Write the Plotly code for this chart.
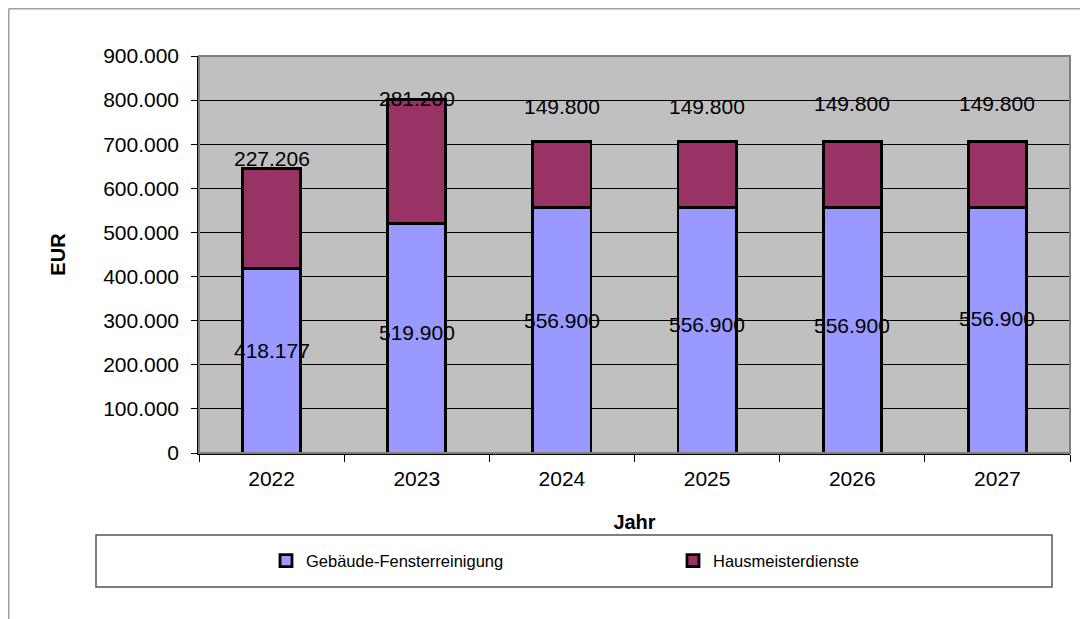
import plotly.graph_objects as go

years = ["2022", "2023", "2024", "2025", "2026", "2027"]
gebaeude = [418177, 519900, 556900, 556900, 556900, 556900]
hausmeister = [227206, 281200, 149800, 149800, 149800, 149800]
series_names = ["Gebäude-Fensterreinigung", "Hausmeisterdienste"]
y_ticks = [0, 100000, 200000, 300000, 400000, 500000, 600000, 700000, 800000, 900000]

# label vertical offsets (px) to mimic the original label placement
bottom_shift = [10, 6, 10, 6, 5, 12]
top_shift = [10, 1, 35, 35, 38, 38]

FONT = "Liberation Sans, Arial, sans-serif"

def fmt(v):
    return f"{v:,.0f}".replace(",", ".")

fig = go.Figure()
fig.add_trace(go.Bar(x=years, y=gebaeude, name=series_names[0], width=0.4, legend="legend",
                     marker=dict(color="#9999FF", line=dict(color="black", width=2.8))))
fig.add_trace(go.Bar(x=years, y=hausmeister, name=series_names[1], width=0.4, legend="legend2",
                     marker=dict(color="#993366", line=dict(color="black", width=2.8))))

annotations = []
for i, yr in enumerate(years):
    annotations.append(dict(x=i, y=gebaeude[i] / 2, xref="x", yref="y", text=fmt(gebaeude[i]),
                            showarrow=False, yshift=bottom_shift[i],
                            font=dict(family=FONT, size=21, color="black")))
    annotations.append(dict(x=i, y=gebaeude[i] + hausmeister[i], xref="x", yref="y",
                            text=fmt(hausmeister[i]), showarrow=False, yshift=top_shift[i],
                            font=dict(family=FONT, size=21, color="black")))

OFF = 8  # page body margin
W, H = 1080, 611
L, R, T, B = 191, 18, 48, 166
pw, ph = W - L - R, H - T - B

def px(xp):  # page x -> paper
    return (xp - OFF - L) / pw

def py(yp):  # page y -> paper
    return (H - B - (yp - OFF)) / ph

shapes = [
    dict(type="rect", xref="paper", yref="paper", x0=0, x1=1, y0=0, y1=1,
         line=dict(color="#808080", width=2), layer="above"),
    dict(type="line", xref="paper", yref="paper", x0=px(8.75), x1=px(1100), y0=py(8.75), y1=py(8.75),
         line=dict(color="#A0A0A0", width=1.5)),
    dict(type="line", xref="paper", yref="paper", x0=px(8.75), x1=px(8.75), y0=py(8.75), y1=py(640),
         line=dict(color="#A0A0A0", width=1.5)),
    dict(type="rect", xref="paper", yref="paper", x0=px(96), x1=px(1052), y0=py(587), y1=py(535),
         line=dict(color="#555555", width=1.5), fillcolor="white", layer="below"),
]

legend_common = dict(orientation="h", y=py(561), xanchor="left", yanchor="middle",
                     bgcolor="rgba(0,0,0,0)", borderwidth=0,
                     font=dict(family=FONT, size=16.5, color="black"), itemwidth=30)

fig.update_layout(
    width=W, height=H,
    margin=dict(l=L, r=R, t=T, b=B),
    paper_bgcolor="white", plot_bgcolor="#C0C0C0",
    barmode="stack", separators=",.",
    font=dict(family=FONT, size=21, color="black"),
    showlegend=True,
    legend=dict(x=px(266), **legend_common),
    legend2=dict(x=px(673), **legend_common),
    xaxis=dict(type="category", range=[-0.5, 5.5],
               title=dict(text="<b>Jahr</b>", font=dict(size=20), standoff=26),
               showline=True, linecolor="black", linewidth=1.5,
               ticks="outside", ticklen=7, tickcolor="black", tickson="boundaries",
               ticklabelstandoff=6,
               showgrid=False, tickfont=dict(size=21)),
    yaxis=dict(title=dict(text="<b>EUR</b>", font=dict(size=20), standoff=32),
               range=[0, 900000], tickvals=y_ticks, tickformat=",.0f",
               showline=True, linecolor="black", linewidth=1.5,
               ticks="outside", ticklen=6, tickcolor="black", ticklabelstandoff=8,
               showgrid=True, gridcolor="black", gridwidth=1, zeroline=False,
               tickfont=dict(size=21)),
    annotations=annotations,
    shapes=shapes,
)

fig.write_html("out.html")
